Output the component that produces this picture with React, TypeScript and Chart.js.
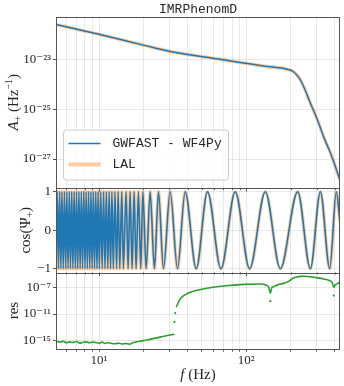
import React, { useEffect, useRef } from 'react';
import { Chart, registerables } from 'chart.js';

Chart.register(...registerables);

// ---------------- data ----------------
const chartTitle = 'IMRPhenomD';
const seriesNames = ['GWFAST - WF4Py', 'LAL'];

// x axis (frequency, Hz)
const freqMin = 5.1;
const freqMax = 433;
const xTickValues = [6, 7, 8, 9, 10, 20, 30, 40, 50, 60, 70, 80, 90, 100, 200, 300, 400];
const xLabelled = [10, 100];

// top panel: amplitude A+ (Hz^-1)
const ampFreqs = [5.1, 10, 20, 30, 54, 70, 96, 124.5, 150, 184, 199, 210, 221, 233, 245.6, 270, 302.7, 340, 372.6, 400, 433];
const ampValues = [2.5e-22, 1.0e-22, 3.7e-23, 2.1e-23, 1.2e-23, 9.5e-24, 7.1e-24, 5.6e-24, 4.9e-24, 4.2e-24, 3.7e-24, 3.1e-24, 2.3e-24, 1.5e-24, 7.9e-25, 2.0e-25, 4.0e-26, 6.3e-27, 1.8e-27, 5.6e-28, 1.4e-28];
const ampTicks = [1e-27, 1e-25, 1e-23];
const ampMin = 6.9e-29;
const ampMax = 5.2e-22;

// middle panel: cos(Psi+) — frequencies of the maxima (+1) and minima (-1)
const cosPeakFreqs = [5.20, 5.40, 5.60, 5.82, 6.04, 6.28, 6.52, 6.77, 7.03, 7.30, 7.58, 7.87, 8.17, 8.49, 8.81, 9.15, 9.50, 9.86, 10.27, 10.73, 11.21, 11.71, 12.23, 12.82, 13.48, 14.27, 15.26, 16.25, 17.3, 18.51, 19.83, 22.23, 25.32, 30.4, 38.46, 54.5, 84.1, 134.6, 223.4, 318.6, 409];
const cosTroughFreqs = [5.10, 5.30, 5.50, 5.71, 5.93, 6.16, 6.40, 6.64, 6.90, 7.16, 7.44, 7.72, 8.02, 8.33, 8.65, 8.98, 9.32, 9.68, 10.05, 10.50, 10.97, 11.46, 11.97, 12.50, 13.15, 13.82, 14.63, 15.75, 16.77, 17.85, 19.21, 20.88, 23.78, 27.38, 34.1, 45.7, 67.3, 105.3, 170.3, 272.5, 368.7];
const cosPeakValue = 1;
const cosTroughValue = -1;
const cosEndFreq = 433;
const cosEndValue = 0.2;
const cosTicks = [-1, 0, 1];

// bottom panel: residual
const resLowFreqs = [5.1, 5.4, 5.7, 6.0, 6.3, 6.6, 7.0, 7.4, 7.8, 8.2, 8.6, 9.0, 9.5, 10.0, 10.5, 11.0, 11.5, 12.0, 12.6, 13.2, 13.8, 14.4, 15.0, 15.6, 16.2, 16.9, 20, 25, 28, 32.5];
const resLowValues = [7.9e-16, 5.0e-16, 7.1e-16, 4.0e-16, 5.6e-16, 4.5e-16, 6.3e-16, 3.5e-16, 5.0e-16, 5.6e-16, 4.0e-16, 5.0e-16, 4.5e-16, 3.5e-16, 5.0e-16, 3.2e-16, 4.0e-16, 3.5e-16, 2.8e-16, 3.2e-16, 3.5e-16, 2.5e-16, 3.2e-16, 2.8e-16, 2.5e-16, 4.0e-16, 8.7e-16, 2.5e-15, 4.5e-15, 8.3e-15];
const resHighFreqs = [33.4, 35.6, 38.5, 43.8, 54, 70.1, 95.9, 124.5, 136, 142, 145.7, 149, 153.4, 165, 179.4, 194, 201, 209.8, 220, 232.9, 250, 272.5, 305, 335.7, 365, 382.8, 392.6, 403, 414, 433];
const resHighValues = [1.15e-10, 2.1e-9, 9.5e-9, 3.1e-8, 8.7e-8, 2.0e-7, 3.5e-7, 4.1e-7, 2.8e-7, 1.26e-7, 1.5e-8, 1.1e-7, 1.6e-7, 3.2e-7, 5.0e-7, 1.0e-6, 1.8e-6, 3.3e-6, 4.7e-6, 5.8e-6, 6.0e-6, 5.1e-6, 3.5e-6, 2.3e-6, 1.4e-6, 7.1e-7, 1.26e-7, 3.2e-7, 4.1e-7, 9.0e-7];
const resDotFreqs = [32.5, 32.9, 145.7, 392.6];
const resDotValues = [6.3e-13, 1.4e-11, 9.3e-10, 6.8e-9];
const resTicks = [1e-15, 1e-11, 1e-7];
const resMin = 5e-17;
const resMax = 2.3e-5;

// ---------------- styling ----------------
const BLUE = '#1f77b4';
const ORANGE_LIGHT = 'rgba(255,127,14,0.4)';
const GREEN = '#2ca02c';
const GRID = 'rgba(0,0,0,0.085)';
const SPINE = '#555555';
const TEXT = '#262626';
const SERIF = '"Liberation Serif", "DejaVu Serif", serif';
const MONO = '"Liberation Mono", "DejaVu Sans Mono", monospace';

const SUP: Record<string, string> = { '-': '⁻', '0': '⁰', '1': '¹', '2': '²', '3': '³', '4': '⁴', '5': '⁵', '6': '⁶', '7': '⁷', '8': '⁸', '9': '⁹' };
const pow10Label = (v: number) =>
  '10' + String(Math.round(Math.log10(v))).split('').map((c) => SUP[c]).join('');

const zip = (xs: number[], ys: number[]) => xs.map((x, i) => ({ x, y: ys[i] }));

const cosPoints = [
  ...cosPeakFreqs.map((f) => ({ x: f, y: cosPeakValue })),
  ...cosTroughFreqs.map((f) => ({ x: f, y: cosTroughValue })),
  { x: cosEndFreq, y: cosEndValue },
].sort((a, b) => a.x - b.x);

// axis titles as runs of text (font style, size, baseline shift)
type Run = { t: string; italic?: boolean; size?: number; dy?: number };
const ampTitle: Run[] = [{ t: 'A', italic: true }, { t: '+', size: 10, dy: 3 }, { t: ' (Hz' }, { t: '−1', size: 10, dy: -6 }, { t: ')' }];
const cosTitle: Run[] = [{ t: 'cos(Ψ' }, { t: '+', size: 10, dy: 3 }, { t: ')' }];
const resTitle: Run[] = [{ t: 'res' }];
const freqTitle: Run[] = [{ t: 'f', italic: true }, { t: ' (Hz)' }];

function drawRuns(ctx: CanvasRenderingContext2D, runs: Run[], cx: number, cy: number, rot: number) {
  const fontOf = (r: Run) => `${r.italic ? 'italic ' : ''}${r.size || 15}px ${SERIF}`;
  let total = 0;
  for (const r of runs) {
    ctx.font = fontOf(r);
    total += ctx.measureText(r.t).width;
  }
  ctx.save();
  ctx.translate(cx, cy);
  ctx.rotate(rot);
  ctx.fillStyle = TEXT;
  ctx.textAlign = 'left';
  ctx.textBaseline = 'alphabetic';
  let x = -total / 2;
  for (const r of runs) {
    ctx.font = fontOf(r);
    ctx.fillText(r.t, x, 5 + (r.dy || 0));
    x += ctx.measureText(r.t).width;
  }
  ctx.restore();
}

const framePlugin = {
  id: 'panelFrame',
  afterDatasetsDraw(chart: any) {
    const { ctx, chartArea, scales } = chart;
    const x = scales.x;
    ctx.save();
    ctx.strokeStyle = SPINE;
    ctx.lineWidth = 1;
    // shared x tick marks below the upper panels
    ctx.beginPath();
    for (const id of ['yAmp', 'yCos']) {
      const s = scales[id];
      for (const v of xTickValues) {
        const px = Math.round(x.getPixelForValue(v)) + 0.5;
        const len = xLabelled.includes(v) ? 3.5 : 2;
        ctx.moveTo(px, s.bottom);
        ctx.lineTo(px, s.bottom + len);
      }
    }
    ctx.stroke();
    for (const id of ['yAmp', 'yCos', 'yRes']) {
      const s = scales[id];
      const l = Math.round(chartArea.left) + 0.5;
      const t = Math.round(s.top) + 0.5;
      const r = Math.round(chartArea.right) - 0.5;
      const b = Math.round(s.bottom) + 0.5;
      ctx.strokeRect(l, t, r - l, b - t);
    }
    ctx.restore();
  },
  afterDraw(chart: any) {
    const { ctx, chartArea, scales } = chart;
    const s = scales.yAmp;
    ctx.save();
    // axis titles
    const mid = (sc: any) => (sc.top + sc.bottom) / 2;
    drawRuns(ctx, ampTitle, 13, mid(scales.yAmp), -Math.PI / 2);
    drawRuns(ctx, cosTitle, 25, mid(scales.yCos), -Math.PI / 2);
    drawRuns(ctx, resTitle, 13, mid(scales.yRes), -Math.PI / 2);
    drawRuns(ctx, freqTitle, (chartArea.left + chartArea.right) / 2, 374, 0);
    // title
    ctx.fillStyle = TEXT;
    ctx.font = `13px ${MONO}`;
    ctx.textAlign = 'center';
    ctx.textBaseline = 'middle';
    ctx.fillText(chartTitle, (chartArea.left + chartArea.right) / 2, 9.5);
    // legend
    const lx = chartArea.left + 7.5;
    const ly = s.bottom - 58;
    const lw = 165;
    const lh = 50;
    ctx.beginPath();
    ctx.roundRect(lx, ly, lw, lh, 3);
    ctx.fillStyle = 'rgba(255,255,255,0.8)';
    ctx.fill();
    ctx.strokeStyle = '#cccccc';
    ctx.lineWidth = 1;
    ctx.stroke();
    const rows = [
      { color: BLUE, width: 1.5, y: ly + 13.5 },
      { color: ORANGE_LIGHT, width: 4, y: ly + 34.5 },
    ];
    rows.forEach((row, i) => {
      ctx.beginPath();
      ctx.strokeStyle = row.color;
      ctx.lineWidth = row.width;
      ctx.moveTo(lx + 5, row.y);
      ctx.lineTo(lx + 37, row.y);
      ctx.stroke();
      ctx.fillStyle = TEXT;
      ctx.font = `13px ${MONO}`;
      ctx.textAlign = 'left';
      ctx.textBaseline = 'middle';
      ctx.fillText(seriesNames[i], lx + 49, row.y + 0.5);
    });
    ctx.restore();
  },
};

const tickFont = { family: SERIF, size: 13 };

function yAxis(extra: any) {
  return {
    position: 'left',
    stack: 'panels',
    border: { display: false },
    grid: { color: GRID, tickColor: SPINE, tickLength: 3 },
    title: { display: false },
    afterFit: (s: any) => {
      s.width = 56;
    },
    ...extra,
    ticks: { font: tickFont, color: TEXT, padding: 2, autoSkip: false, ...(extra.ticks || {}) },
  };
}

export default function App() {
  const ref = useRef<HTMLCanvasElement>(null);

  useEffect(() => {
    const chart = new Chart(ref.current as HTMLCanvasElement, {
      type: 'line',
      data: {
        datasets: [
          { label: seriesNames[0], data: zip(ampFreqs, ampValues), yAxisID: 'yAmp', borderColor: BLUE, borderWidth: 1.5, cubicInterpolationMode: 'monotone' },
          { label: seriesNames[1], data: zip(ampFreqs, ampValues), yAxisID: 'yAmp', borderColor: ORANGE_LIGHT, borderWidth: 3.5, cubicInterpolationMode: 'monotone' },
          { label: seriesNames[0], data: cosPoints, yAxisID: 'yCos', borderColor: BLUE, borderWidth: 1.6, cubicInterpolationMode: 'monotone' },
          { label: seriesNames[1], data: cosPoints, yAxisID: 'yCos', borderColor: ORANGE_LIGHT, borderWidth: 3.5, cubicInterpolationMode: 'monotone' },
          { label: 'res', data: zip(resLowFreqs, resLowValues), yAxisID: 'yRes', borderColor: GREEN, borderWidth: 1.6, cubicInterpolationMode: 'monotone' },
          { label: 'res', data: zip(resHighFreqs, resHighValues), yAxisID: 'yRes', borderColor: GREEN, borderWidth: 1.6, cubicInterpolationMode: 'monotone' },
          { label: 'res', data: zip(resDotFreqs, resDotValues), yAxisID: 'yRes', borderColor: GREEN, backgroundColor: GREEN, showLine: false, pointRadius: 1.1, pointBorderWidth: 0 },
        ],
      },
      options: {
        responsive: false,
        animation: false,
        devicePixelRatio: 1,
        events: [],
        layout: { padding: { top: 16.5, right: 4, left: 0, bottom: 0 } },
        elements: { point: { radius: 0 }, line: { fill: false } },
        plugins: { legend: { display: false }, title: { display: false }, tooltip: { enabled: false } },
        scales: {
          x: {
            type: 'logarithmic',
            min: freqMin,
            max: freqMax,
            position: 'bottom',
            border: { display: false },
            grid: { color: GRID, tickColor: SPINE, tickLength: 3 },
            afterBuildTicks: (s: any) => {
              s.ticks = xTickValues.map((v) => ({ value: v }));
            },
            ticks: {
              font: tickFont,
              color: TEXT,
              padding: 1,
              autoSkip: false,
              maxRotation: 0,
              callback: (v: any) => (xLabelled.includes(Number(v)) ? pow10Label(Number(v)) : ''),
            },
            title: { display: false },
            afterFit: (s: any) => {
              s.height = 37.3;
            },
          },
          yRes: yAxis({
            type: 'logarithmic',
            min: resMin,
            max: resMax,
            stackWeight: 76.2,
            afterBuildTicks: (s: any) => {
              s.ticks = resTicks.map((v) => ({ value: v }));
            },
            ticks: { callback: (v: any) => pow10Label(Number(v)) },
          }),
          yCos: yAxis({
            type: 'linear',
            min: -1.1,
            max: 1.1,
            stackWeight: 84.5,
            afterBuildTicks: (s: any) => {
              s.ticks = cosTicks.map((v) => ({ value: v }));
            },
            ticks: { callback: (v: any) => (Number(v) < 0 ? '−' + Math.abs(Number(v)) : String(v)) },
          }),
          yAmp: yAxis({
            type: 'logarithmic',
            min: ampMin,
            max: ampMax,
            stackWeight: 171.5,
            afterBuildTicks: (s: any) => {
              s.ticks = ampTicks.map((v) => ({ value: v }));
            },
            ticks: { callback: (v: any) => pow10Label(Number(v)) },
          }),
        },
      } as any,
      plugins: [framePlugin],
    });
    return () => chart.destroy();
  }, []);

  return (
    <div style={{ position: 'fixed', left: 0, top: 0, width: 344, height: 386, background: '#ffffff' }}>
      <canvas ref={ref} width={344} height={386} style={{ display: 'block', width: 344, height: 386 }} />
    </div>
  );
}
